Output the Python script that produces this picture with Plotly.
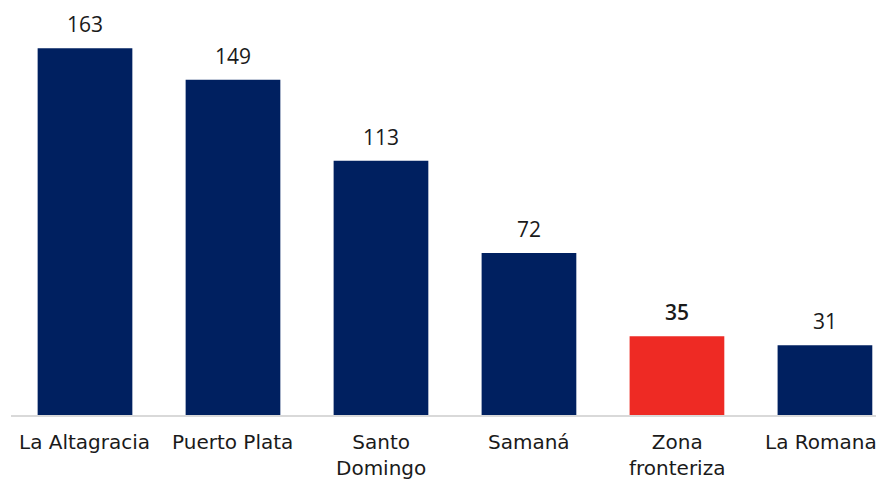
import plotly.graph_objects as go

categories = ["La Altagracia", "Puerto Plata", "Santo<br>Domingo", "Samaná", "Zona<br>fronteriza", "La Romana"]
values = [163, 149, 113, 72, 35, 31]
colors = ["#002060", "#002060", "#002060", "#002060", "#EE2A24", "#002060"]

NUM_FONT = "Open Sans, sans-serif"
LAB_FONT = "DejaVu Sans, sans-serif"

fig = go.Figure(go.Bar(
    x=categories, y=values, marker_color=colors, width=0.64,
    marker_line_width=0,
))

for i, (c, v) in enumerate(zip(categories, values)):
    fig.add_annotation(
        x=c, y=v, text=str(v), showarrow=False, yanchor="bottom", yshift=8,
        font=dict(family=NUM_FONT, size=21, color="#1a1a1a",
                  weight=600 if i == 4 else 400),
    )
    # category label below the axis
    fig.add_annotation(
        x=c, y=0, text=c, showarrow=False, yanchor="top", yshift=-13,
        xshift=-4 if i == len(categories) - 1 else 0,
        font=dict(family=LAB_FONT, size=20, color="#1a1a1a"),
    )

fig.update_layout(
    width=868, height=471,
    margin=dict(l=3, r=0, t=0, b=64),
    plot_bgcolor="white", paper_bgcolor="white",
    showlegend=False,
    font=dict(family=LAB_FONT, size=20, color="#1a1a1a"),
    xaxis=dict(range=[-0.5, 5.345], showline=True, linecolor="#d9d9d9", linewidth=2,
               ticks="", showticklabels=False),
    yaxis=dict(range=[0, 180.9], visible=False, showgrid=False),
)

fig.write_html("out.html")
